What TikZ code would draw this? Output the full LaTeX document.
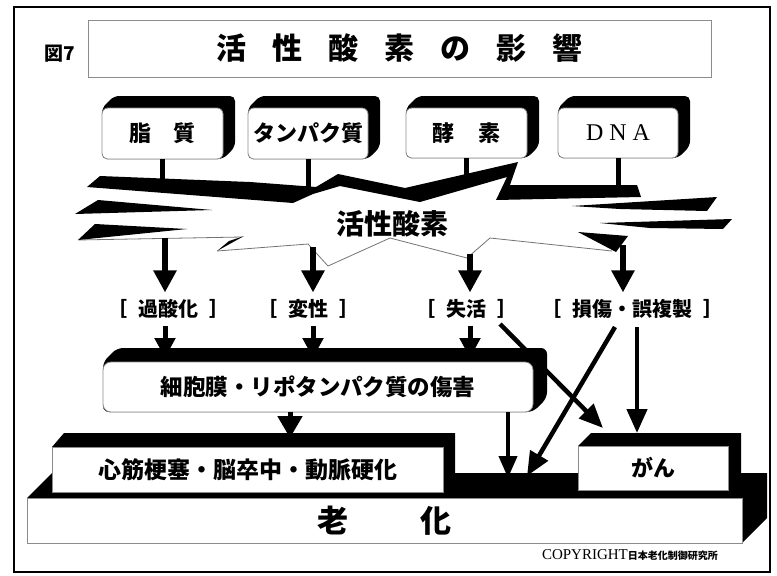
\documentclass[tikz,border=0pt]{standalone}
\usepackage{fontspec}
\newfontfamily\jp{Noto Sans CJK JP}
\newfontfamily\lserif{Liberation Serif}
\usetikzlibrary{arrows.meta,calc,backgrounds}
\newcommand\ttgap{\hspace{26pt}}
\newcommand\bgap{\hspace{0.55em}}
\begin{document}
\begin{tikzpicture}[x=1pt,y=-1pt,
  every node/.style={inner sep=0pt, outer sep=0pt},
  front/.style={draw=black!45, line width=0.8pt, fill=white, rounded corners=6pt},
  sharpfront/.style={draw=black!45, line width=0.8pt, fill=white},
  shadow/.style={fill=black, rounded corners=5pt},
  bigarrow/.style={line width=5.5pt, -{Triangle[width=22pt,length=22pt]}},
  midarrow/.style={line width=5pt, -{Triangle[width=20pt,length=20pt]}},
  thinarrow/.style={line width=4.5pt, -{Triangle[width=20pt,length=24pt]}},
  stem/.style={line width=5pt},
  jpb/.style={font=\jp\bfseries\fontsize{#1}{#1}\selectfont},
  lbl/.style={jpb=20, inner ysep=7pt},
  burstline/.style={draw=black!55, line width=0.8pt},
]
\useasboundingbox (0,0) rectangle (777,576);
\draw[line width=2pt] (14,7) rectangle (770,572);

% title
\node[jpb=19] (fig) at (60,54) {図7};
\node[sharpfront, minimum width=623pt, minimum height=57pt, jpb=30] (title) at (399.5,48.5)
  {活\ttgap 性\ttgap 酸\ttgap 素\ttgap の\ttgap 影\ttgap 響};

% top boxes
\node[front, minimum width=121pt, minimum height=51pt, jpb=22] (b1) at (162.5,133.5) {脂\hspace{1em}質};
\node[front, minimum width=120pt, minimum height=51pt, jpb=22] (b2) at (308,133.5) {タンパク質};
\node[front, minimum width=121pt, minimum height=50pt, jpb=22] (b3) at (466.5,133) {酵\hspace{1.1em}素};
\node[front, minimum width=120pt, minimum height=50pt, font=\lserif\fontsize{24}{24}\selectfont] (b4) at (618,133) {D\hspace{6pt}N\hspace{6pt}A};

% middle / bottom boxes
\node[front, rounded corners=8pt, minimum width=430pt, minimum height=50pt, jpb=22.5] (cm) at (318,387) {細胞膜・リポタンパク質の傷害};
\node[sharpfront, minimum width=715pt, minimum height=45pt, jpb=31] (pl) at (384.5,520.5) {老\hspace{73pt}化};
\node[sharpfront, minimum width=391pt, minimum height=45pt, jpb=23] (hk) at (247.5,469.5) {心筋梗塞・脳卒中・動脈硬化};
\node[sharpfront, minimum width=150pt, minimum height=44pt, jpb=22] (gan) at (653,468) {がん};

% shadows
\begin{scope}[on background layer]
\foreach \n in {b1,b2,b3,b4}
  \fill[shadow] (\n.north west) -- ++(12,-12) -- ($(\n.north east)+(12,-12)$) -- ($(\n.south east)+(12,-12)$) -- (\n.south east) -- (\n.south west) -- cycle;
\fill[shadow, rounded corners=6pt] (cm.north west) -- ++(14,-14) -- ($(cm.north east)+(14,-14)$) -- ($(cm.south east)+(14,-14)$) -- (cm.south east) -- (cm.south west) -- cycle;
\fill (pl.north west) -- ++(25,-25) -- ($(pl.north east)+(25,-25)$) -- ($(pl.south east)+(25,-25)$) -- (pl.south east) -- cycle;
\fill (hk.north west) -- ++(12,-14) -- ($(hk.north east)+(12,-14)$) -- ($(hk.south east)+(12,-14)$) -- (hk.south east) -- cycle;
\fill (gan.north west) -- ++(13,-13) -- ($(gan.north east)+(13,-13)$) -- ($(gan.south east)+(13,-13)$) -- (gan.south east) -- cycle;
\end{scope}

% stems from top boxes into the burst
\coordinate (k1) at ($(b1.south)+(0,27)$);
\coordinate (k2) at ($(b2.south)+(0,33)$);
\coordinate (k3) at ($(b3.south)+(0,24)$);
\coordinate (k4) at ($(b4.south)+(0,32)$);
\foreach \n/\k in {b1/k1,b2/k2,b3/k3,b4/k4}
  \draw[stem] (\n.south) -- (\k);

% burst: lower thin outline
\draw[burstline] (78,240) -- (242,237);
\draw[burstline] (217,251) -- (308,244) -- (328,266) -- (390,238) -- (467,258) -- (490,238) -- (612,251);
\fill (217,251) -- (244,236) -- (229,241) -- cycle;
% burst: top band
\fill (87,187) -- (100,176) -- (250,182) -- (316,187) -- (338,174) -- (405,188) -- (518,162) -- (510,185)
  -- (637,185) -- (641,197) -- (496,200) -- (507,177) -- (420,202) -- (340,186) -- (313,194) -- (293,203) -- cycle;
% burst: left spikes
\fill (98,200) -- (212,210) -- (75,214) -- cycle;
\fill (95,224) -- (187,229) -- (78,240) -- cycle;
% burst: right spikes
\fill (572,206) -- (717,197) -- (707,211) -- (620,209) -- cycle;
\fill (600,223) -- (732,219) -- (723,229) -- (650,228) -- cycle;
\fill (578,232) -- (628,236) -- (616,252) -- cycle;
\node[jpb=28] (ros) at (392,224) {活性酸素};

% labels
\node[lbl] (l1) at (168,309) {［\bgap 過酸化\bgap ］};
\node[lbl] (l2) at (308,309) {［\bgap 変性\bgap ］};
\node[lbl] (l3) at (466,309) {［\bgap 失活\bgap ］};
\node[lbl] (l4) at (632,309) {［\bgap 損傷・誤複製\bgap ］};

% burst -> labels
\coordinate (a1) at (165,238);
\coordinate (a2) at (313,247);
\coordinate (a3) at (470,254);
\coordinate (a4) at (623,245);
\foreach \a/\l in {a1/l1,a2/l2,a3/l3,a4/l4}
  \draw[bigarrow] (\a) -- (\l.north -| \a);

% labels -> cell membrane box
\foreach \a/\l in {a1/l1,a2/l2,a3/l3}
  \draw[midarrow] (\l.south -| \a) -- ($(cm.north -| \a)+(0,-4)$);

% cell box -> cardio box
\coordinate (c1) at (290,412);
\coordinate (c1t) at (290,438);
\draw[midarrow, -{Triangle[width=24pt,length=22pt]}] (c1) -- (c1t);

% right-side arrows
\coordinate (d1s) at (500,324);
\coordinate (d1t) at (603,428);
\coordinate (d2s) at (615,327);
\coordinate (d2t) at (527,476);
\coordinate (v1s) at (637,327);
\coordinate (v1t) at (637,433);
\coordinate (v2s) at (508,412);
\coordinate (v2t) at (508,478);
\draw[thinarrow] (d1s) -- (d1t);
\draw[thinarrow] (d2s) -- (d2t);
\draw[thinarrow] (v1s) -- (v1t);
\draw[thinarrow, line width=4pt, -{Triangle[width=18pt,length=22pt]}] (v2s) -- (v2t);

% copyright
\node[anchor=west] (copy) at (542,555) {\lserif\fontsize{15}{15}\selectfont COPYRIGHT\jp\bfseries\fontsize{10}{10}\selectfont 日本老化制御研究所};
\end{tikzpicture}
\end{document}
